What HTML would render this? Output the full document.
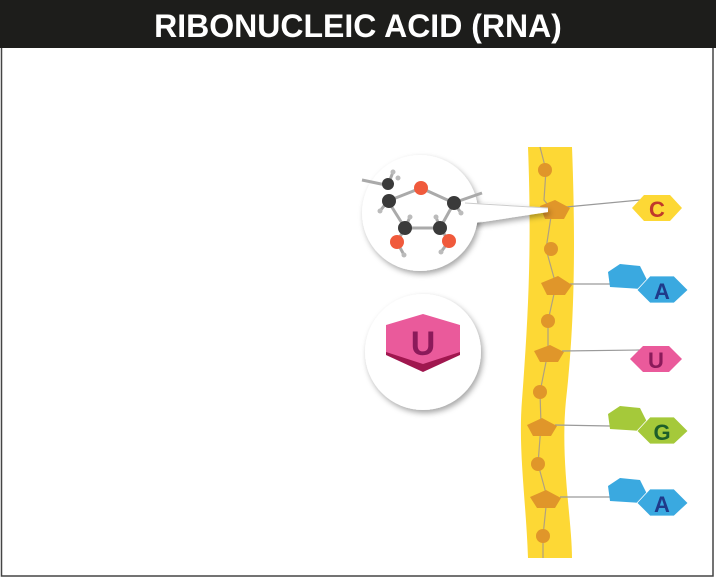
<!DOCTYPE html>
<html><head><style>body{margin:0;background:#fff}svg{display:block}</style></head><body>
<svg width="716" height="580" viewBox="0 0 716 580" xmlns="http://www.w3.org/2000/svg">
<defs>
<filter id="sh" x="-30%" y="-30%" width="160%" height="160%"><feDropShadow dx="2" dy="3" stdDeviation="3" flood-color="#000" flood-opacity="0.35"/></filter>
</defs>
<rect x="0" y="0" width="716" height="580" fill="#fff"/>
<rect x="1.5" y="40" width="711.5" height="536" fill="none" stroke="#444" stroke-width="1.5"/>
<rect x="0" y="0" width="716" height="48" fill="#1d1d1b"/>
<text x="358" y="37" text-anchor="middle" font-family="Liberation Sans, sans-serif" font-weight="bold" font-size="32" fill="#fff">RIBONUCLEIC ACID (RNA)</text>

<path d="M528,147 L572,147 C576,250 574,330 566,400 C560,460 572,520 572,558 L528,558 C526,500 518,450 522,400 C528,320 532,250 528,147 Z" fill="#fdd835"/>
<path d="M540,147 L546,170 L544,200 L552,210 L546,249 L556,285 L548,321 L548,352 L540,392 L541,425 L538,464 L547,497 L543,536 L543,558" fill="none" stroke="#b0a080" stroke-width="1.2"/>
<g fill="#e0962a">
<circle cx="545" cy="170" r="7"/><circle cx="551" cy="249" r="7"/><circle cx="548" cy="321" r="7"/><circle cx="540" cy="392" r="7"/><circle cx="538" cy="464" r="7"/><circle cx="543" cy="536" r="7"/>
</g>
<g stroke="#9a9a9a" stroke-width="1.2">
<line x1="566" y1="207" x2="640" y2="200"/>
<line x1="570" y1="284" x2="610" y2="284"/>
<line x1="562" y1="351" x2="640" y2="350"/>
<line x1="555" y1="425" x2="610" y2="426"/>
<line x1="560" y1="497" x2="610" y2="497"/>
</g>
<g fill="#e0962a">
<polygon points="540,206 555,200 570,208 564,219 545,219"/>
<polygon points="541,283 558,276 572,285 565,295 547,295"/>
<polygon points="534,351 550,345 564,352 558,362 540,362"/>
<polygon points="527,425 542,418 557,426 551,436 533,436"/>
<polygon points="530,497 546,490 561,498 555,508 537,508"/>
</g>

<polygon points="632,208 644,195 670,195 682,208 670,221 644,221" fill="#fdd835"/>
<text x="657" y="217" text-anchor="middle" font-family="Liberation Sans, sans-serif" font-weight="bold" font-size="22" fill="#c0392b">C</text>

<polygon points="608,272 620,264 640,266 648,282 642,289 610,287" fill="#3aa9e0"/>
<polygon points="637,290 650,276 674,276 688,290 674,303 650,303" fill="#3aa9e0" stroke="#fff" stroke-width="0.8"/>
<text x="662" y="299" text-anchor="middle" font-family="Liberation Sans, sans-serif" font-weight="bold" font-size="22" fill="#1f3a8a">A</text>

<polygon points="630,359 643,346 669,346 682,359 669,372 643,372" fill="#ea5a9b"/>
<text x="656" y="368" text-anchor="middle" font-family="Liberation Sans, sans-serif" font-weight="bold" font-size="22" fill="#8b1a5a">U</text>

<polygon points="608,414 620,406 640,408 648,424 642,431 610,429" fill="#a5c93a"/>
<polygon points="637,431 650,417 674,417 688,431 674,444 650,444" fill="#a5c93a" stroke="#fff" stroke-width="0.8"/>
<text x="662" y="440" text-anchor="middle" font-family="Liberation Sans, sans-serif" font-weight="bold" font-size="22" fill="#1d5e2a">G</text>

<polygon points="608,486 620,478 640,480 648,496 642,503 610,501" fill="#3aa9e0"/>
<polygon points="637,503 650,489 674,489 688,503 674,516 650,516" fill="#3aa9e0" stroke="#fff" stroke-width="0.8"/>
<text x="662" y="512" text-anchor="middle" font-family="Liberation Sans, sans-serif" font-weight="bold" font-size="22" fill="#1f3a8a">A</text>

<polygon points="470,202 548,208 548,212 470,224" fill="#fff" filter="url(#sh)"/>
<circle cx="420" cy="213" r="58" fill="#fff" filter="url(#sh)"/>
<polygon points="465,203 548,208 548,212 465,224" fill="#fff"/>
<line x1="465" y1="203" x2="548" y2="208" stroke="#ccc" stroke-width="1"/>
<g stroke="#aaa" stroke-width="3">
<line x1="362" y1="180" x2="386" y2="185"/><line x1="482" y1="193" x2="456" y2="202"/>
<line x1="388" y1="201" x2="421" y2="188"/><line x1="421" y1="188" x2="454" y2="203"/>
<line x1="388" y1="201" x2="405" y2="228"/><line x1="454" y1="203" x2="440" y2="228"/>
<line x1="405" y1="228" x2="440" y2="228"/><line x1="405" y1="228" x2="397" y2="242"/><line x1="440" y1="228" x2="449" y2="241"/>
<line x1="388" y1="185" x2="393" y2="172"/><line x1="388" y1="201" x2="380" y2="211"/><line x1="454" y1="203" x2="461" y2="213"/>
<line x1="405" y1="228" x2="410" y2="217"/><line x1="440" y1="228" x2="436" y2="217"/>
<line x1="397" y1="242" x2="404" y2="255"/><line x1="449" y1="241" x2="441" y2="252"/>
</g>
<g fill="#bbb"><circle cx="393" cy="172" r="2.5"/><circle cx="380" cy="211" r="2.5"/><circle cx="461" cy="213" r="2.5"/><circle cx="410" cy="217" r="2.5"/><circle cx="436" cy="217" r="2.5"/><circle cx="404" cy="255" r="2.5"/><circle cx="441" cy="252" r="2.5"/><circle cx="398" cy="178" r="2.5"/></g>
<g fill="#3a3a3a"><circle cx="388" cy="184" r="6"/><circle cx="389" cy="201" r="7"/><circle cx="454" cy="203" r="7"/><circle cx="405" cy="228" r="7"/><circle cx="440" cy="228" r="7"/></g>
<g fill="#f05a3c"><circle cx="421" cy="188" r="7"/><circle cx="397" cy="242" r="7"/><circle cx="449" cy="241" r="7"/></g>

<circle cx="423" cy="352" r="58" fill="#fff" filter="url(#sh)"/>
<polygon points="386,333 423,316 460,333 460,355 423,372 386,355" fill="#a0174f"/>
<polygon points="386,325 423,314 460,325 460,352 423,364 386,352" fill="#ea5a9b"/>
<text x="423" y="355" text-anchor="middle" font-family="Liberation Sans, sans-serif" font-weight="bold" font-size="34" fill="#8b1a5a">U</text>
</svg>
</body></html>
